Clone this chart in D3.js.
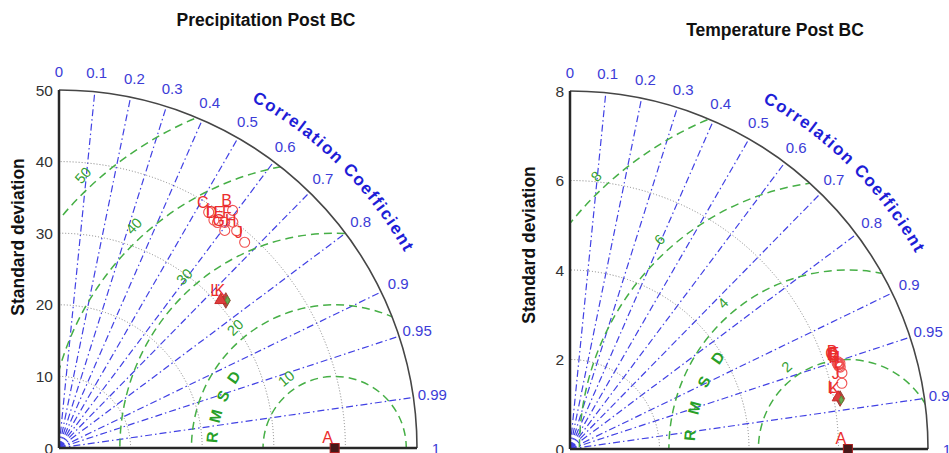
<!DOCTYPE html>
<html><head><meta charset="utf-8">
<script src="https://cdn.jsdelivr.net/npm/d3@7"></script>
<style>
body{margin:0;background:#fff}
svg{display:block}
text{font-family:"Liberation Sans",Arial,Helvetica,sans-serif}
</style>
</head><body>
<svg id="chart" width="949" height="453"></svg>
<script>
// ---------------- data ----------------
const corrTickLabels = [0, 0.1, 0.2, 0.3, 0.4, 0.5, 0.6, 0.7, 0.8, 0.9, 0.95, 0.99, 1];
const corrLineValues = [0.1, 0.2, 0.3, 0.4, 0.5, 0.6, 0.7, 0.8, 0.9, 0.95, 0.99];
const modelNames = ["B", "C", "D", "E", "F", "G", "H", "I", "J", "K", "L", ""];
const modelMarkers = ["circle", "circle", "circle", "circle", "circle", "circle", "circle", "circle", "circle", "diamond", "triangle", "small"];
const refName = "A";

const precipStdTicks = [0, 10, 20, 30, 40, 50];
const precipRmsTicks = [10, 20, 30, 40, 50];
const precipRefStd = 38.5;
const precipStd  = [41.1, 39.0, 38.5, 39.1, 39.8, 38.2, 39.2, 38.5, 38.7, 31.1, 30.6, 31.3];
const precipCorr = [0.590, 0.536, 0.575, 0.592, 0.610, 0.606, 0.633, 0.562, 0.670, 0.749, 0.738, 0.752];

const tempStdTicks = [0, 2, 4, 6, 8];
const tempRmsTicks = [2, 4, 6, 8];
const tempRefStd = 6.21;
const tempStd  = [6.30, 6.27, 6.30, 6.28, 6.33, 6.29, 6.31, 6.31, 6.25, 6.14, 6.10, 6.16];
const tempCorr = [0.951, 0.952, 0.954, 0.954, 0.953, 0.956, 0.957, 0.963, 0.972, 0.983, 0.982, 0.984];

// ---------------- layout ----------------
const svg = d3.select("#chart");
const panels = [
  {title: "Precipitation Post BC", tx: 266, ty: 20, ox: 59, oy: 448, max: 50,
   stdTicks: precipStdTicks, rmsTicks: precipRmsTicks, ref: precipRefStd,
   std: precipStd, corr: precipCorr, rmsTitleR: 17.2, ylabY: 237, id: "p"},
  {title: "Temperature Post BC", tx: 775, ty: 30, ox: 570, oy: 449, max: 8,
   stdTicks: tempStdTicks, rmsTicks: tempRmsTicks, ref: tempRefStd,
   std: tempStd, corr: tempCorr, rmsTitleR: 3.55, ylabY: 245, id: "t"}
];
const RADIUS = 358;
const BLUE = "rgb(65,65,228)";
const BLUE_TXT = "rgb(60,60,215)";
const GREEN = "rgb(70,175,70)";
const GREEN_TXT = "rgb(50,160,50)";
const RED = "rgb(235,45,45)";

panels.forEach(P => drawPanel(P));

function drawPanel(P) {
  const g = svg.append("g");
  const r = d3.scaleLinear().domain([0, P.max]).range([0, RADIUS]);
  const pt = (s, c) => [P.ox + r(s) * c, P.oy - r(s) * Math.sqrt(Math.max(0, 1 - c * c))];

  // clip sector
  const cp = d3.path();
  cp.moveTo(P.ox, P.oy); cp.lineTo(P.ox + RADIUS, P.oy);
  cp.arc(P.ox, P.oy, RADIUS, 0, -Math.PI / 2, true); cp.closePath();
  svg.append("clipPath").attr("id", "clip" + P.id).append("path").attr("d", cp.toString());

  // correlation lines
  g.selectAll(".cl").data(corrLineValues).join("line")
    .attr("x1", P.ox).attr("y1", P.oy)
    .attr("x2", d => pt(P.max, d)[0]).attr("y2", d => pt(P.max, d)[1])
    .attr("stroke", BLUE).attr("stroke-width", 1.2)
    .attr("stroke-dasharray", "7,3,1.5,3");

  // std arcs (dotted)
  g.selectAll(".sa").data(P.stdTicks.filter(d => d > 0 && d < P.max)).join("path")
    .attr("d", d => { const p = d3.path(); p.moveTo(P.ox + r(d), P.oy); p.arc(P.ox, P.oy, r(d), 0, -Math.PI / 2, true); return p.toString(); })
    .attr("fill", "none").attr("stroke", "rgb(130,130,130)").attr("stroke-width", 1)
    .attr("stroke-dasharray", "1,2");

  // RMSD circles
  const refPx = P.ox + r(P.ref);
  g.append("g").attr("clip-path", "url(#clip" + P.id + ")")
    .selectAll("circle").data(P.rmsTicks).join("circle")
    .attr("cx", refPx).attr("cy", P.oy).attr("r", d => r(d))
    .attr("fill", "none").attr("stroke", GREEN).attr("stroke-width", 1.5)
    .attr("stroke-dasharray", "8,5");

  // RMSD labels
  const a = 21;
  g.selectAll(".rl").data(P.rmsTicks).join("text")
    .each(function(d) {
      const D = r(d) + 13;
      const t = (a + Math.sqrt(2 * D * D - a * a)) / 2;
      const x = refPx + a - t, y = P.oy - t;
      const phi = Math.atan2(t, a - t) * 180 / Math.PI;
      d3.select(this).attr("transform", `translate(${x},${y}) rotate(${-(phi - 90) - 5})`);
    })
    .attr("text-anchor", "middle").attr("dominant-baseline", "central")
    .attr("font-size", 14.5).attr("fill", GREEN_TXT).text(d => d);

  // RMSD title
  const rt = r(P.rmsTitleR);
  const rmsLetters = ["R", "M", "S", "D"];
  g.selectAll(".rt").data(rmsLetters).join("text")
    .each(function(d, i) {
      const phi = 175 - i * 10;
      const x = refPx + rt * Math.cos(phi * Math.PI / 180);
      const y = P.oy - rt * Math.sin(phi * Math.PI / 180);
      d3.select(this).attr("transform", `translate(${x},${y}) rotate(${-(phi - 90)})`);
    })
    .attr("text-anchor", "middle").attr("dominant-baseline", "central")
    .attr("font-size", 15.5).attr("font-weight", "bold").attr("fill", "rgb(40,160,40)").text(d => d);

  // outer arc
  const op = d3.path();
  op.moveTo(P.ox + RADIUS, P.oy); op.arc(P.ox, P.oy, RADIUS, 0, -Math.PI / 2, true);
  g.append("path").attr("d", op.toString()).attr("fill", "none")
    .attr("stroke", "rgb(70,70,70)").attr("stroke-width", 1.6);

  // axes
  g.append("line").attr("x1", P.ox).attr("y1", P.oy).attr("x2", P.ox).attr("y2", P.oy - RADIUS)
    .attr("stroke", "rgb(40,40,40)").attr("stroke-width", 2.5);
  g.append("line").attr("x1", P.ox).attr("y1", P.oy).attr("x2", P.ox + RADIUS).attr("y2", P.oy)
    .attr("stroke", "rgb(40,40,40)").attr("stroke-width", 2.5);

  // y tick labels
  g.selectAll(".yt").data(P.stdTicks).join("text")
    .attr("x", P.ox - 6).attr("y", d => P.oy - r(d))
    .attr("text-anchor", "end").attr("dominant-baseline", "central")
    .attr("font-size", 15.5).attr("fill", "rgb(50,50,50)").text(d => d);

  // y label
  g.append("text").attr("transform", `translate(${P.ox - 41},${P.ylabY}) rotate(-90)`)
    .attr("text-anchor", "middle").attr("dominant-baseline", "central")
    .attr("font-size", 17.5).attr("font-weight", "bold").attr("fill", "#111").text("Standard deviation");

  // correlation tick labels
  g.selectAll(".ct").data(corrTickLabels).join("text")
    .attr("x", d => P.ox + (RADIUS + 19) * d)
    .attr("y", d => P.oy - (RADIUS + 19) * Math.sqrt(1 - d * d))
    .attr("text-anchor", "middle").attr("dominant-baseline", "central")
    .attr("font-size", 15).attr("fill", BLUE_TXT).text(d => d);

  // Correlation Coefficient curved title
  const tr = 397;
  const a0 = 61 * Math.PI / 180, a1 = 29 * Math.PI / 180;
  const tp = d3.path();
  tp.moveTo(P.ox + tr * Math.cos(a0), P.oy - tr * Math.sin(a0));
  tp.arc(P.ox, P.oy, tr, -a0, -a1, false);
  svg.append("defs").append("path").attr("id", "ccpath" + P.id).attr("d", tp.toString());
  g.append("text").attr("font-size", 17).attr("font-weight", "bold").attr("fill", "rgb(30,30,215)")
    .append("textPath").attr("href", "#ccpath" + P.id)
    .attr("textLength", tr * (a0 - a1) - 4).attr("lengthAdjust", "spacing")
    .text("Correlation Coefficient");

  // title
  g.append("text").attr("x", P.tx).attr("y", P.ty)
    .attr("text-anchor", "middle").attr("dominant-baseline", "central")
    .attr("font-size", 17.5).attr("font-weight", "bold").attr("fill", "#111").text(P.title);

  // reference marker
  g.append("rect").attr("x", refPx - 4.5).attr("y", P.oy - 4.5).attr("width", 9).attr("height", 9)
    .attr("fill", "rgb(70,25,25)").attr("stroke", "rgb(170,30,30)").attr("stroke-width", 1);
  g.append("text").attr("x", refPx - 7).attr("y", P.oy - 11)
    .attr("text-anchor", "middle").attr("dominant-baseline", "central")
    .attr("font-size", 16).attr("fill", RED).text(refName);

  // model markers
  const models = modelNames.map((n, i) => ({name: n, marker: modelMarkers[i], p: pt(P.std[i], P.corr[i])}));
  const mg = g.append("g");
  models.forEach(m => {
    const [x, y] = m.p;
    if (m.marker === "circle") {
      mg.append("circle").attr("cx", x).attr("cy", y).attr("r", 5)
        .attr("fill", "none").attr("stroke", "rgb(240,80,80)").attr("stroke-width", 1.1);
    } else if (m.marker === "triangle") {
      mg.append("path").attr("d", d3.symbol(d3.symbolTriangle, 60)()).attr("transform", `translate(${x},${y})`)
        .attr("fill", "rgb(220,60,60)").attr("stroke", "rgb(200,40,40)");
    } else if (m.marker === "diamond") {
      mg.append("path").attr("d", d3.symbol(d3.symbolDiamond, 70)()).attr("transform", `translate(${x},${y})`)
        .attr("fill", "rgb(175,75,65)").attr("stroke", "rgb(160,60,50)");
    } else {
      mg.append("path").attr("d", d3.symbol(d3.symbolDiamond, 18)()).attr("transform", `translate(${x},${y})`)
        .attr("fill", "rgb(110,170,80)").attr("stroke", "rgb(80,150,60)");
    }
  });
  models.filter(m => m.name).forEach(m => {
    mg.append("text").attr("x", m.p[0] - 6).attr("y", m.p[1] - 10)
      .attr("text-anchor", "middle").attr("dominant-baseline", "central")
      .attr("font-size", 16).attr("fill", RED).text(m.name);
  });
}
</script>
</body></html>
